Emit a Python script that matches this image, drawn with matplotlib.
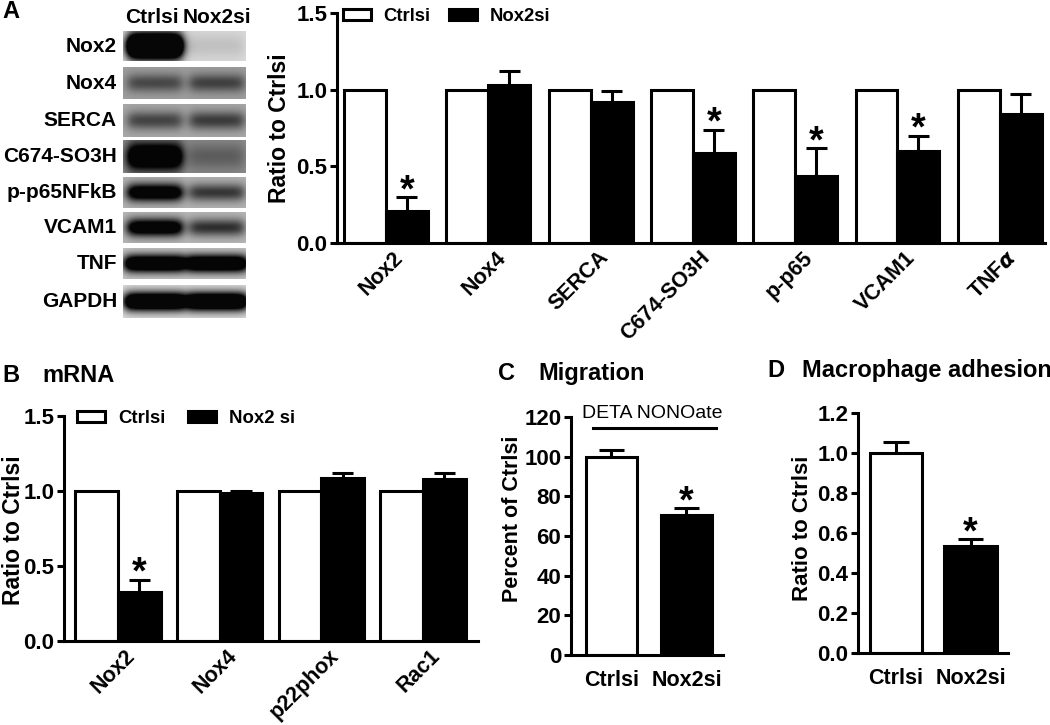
import matplotlib.pyplot as plt
import numpy as np
from matplotlib.patches import Patch
from matplotlib.ticker import FormatStrFormatter
from matplotlib.transforms import ScaledTranslation

plt.rcParams['font.family'] = ['Liberation Sans', 'DejaVu Sans']
plt.rcParams['font.weight'] = 'bold'
plt.rcParams['axes.labelweight'] = 'bold'
plt.rcParams['mathtext.default'] = 'it'

# ── data ──────────────────────────────────────────────────────────────────────
blot_labels = ["Nox2", "Nox4", "SERCA", "C674-SO3H", "p-p65NFkB", "VCAM1", "TNF", "GAPDH"]
blot_lanes = ["Ctrlsi", "Nox2si"]
blot_ctrl = [2.4, 0.55, 0.6, 1.7, 1.4, 1.4, 1.6, 1.7]      # band darkness
blot_nox2 = [0.12, 0.6, 0.65, 0.35, 0.7, 0.75, 1.6, 1.7]
blot_bg = [0.86, 0.62, 0.66, 0.56, 0.70, 0.72, 0.78, 0.86]  # membrane grey

a_cats = ["Nox2", "Nox4", "SERCA", "C674-SO3H", "p-p65", "VCAM1", r"TNF$\alpha$"]
a_ctrl = [1.0, 1.0, 1.0, 1.0, 1.0, 1.0, 1.0]
a_nox2 = [0.21, 1.03, 0.92, 0.59, 0.44, 0.60, 0.84]
a_err = [0.09, 0.09, 0.07, 0.15, 0.18, 0.10, 0.13]
a_sig = [True, False, False, True, True, True, False]

b_cats = ["Nox2", "Nox4", "p22phox", "Rac1"]
b_ctrl = [1.0, 1.0, 1.0, 1.0]
b_nox2 = [0.33, 0.99, 1.09, 1.08]
b_err = [0.08, 0.01, 0.03, 0.04]
b_sig = [True, False, False, False]

c_groups = ["Ctrlsi", "Nox2si"]
c_vals = [100.0, 70.5]
c_err = [3.3, 3.5]
c_sig = [False, True]

d_groups = ["Ctrlsi", "Nox2si"]
d_vals = [1.0, 0.535]
d_err = [0.055, 0.035]
d_sig = [False, True]

# ── helpers ───────────────────────────────────────────────────────────────────
W, H = 1050, 725
LW = 2.2
TICK = 16
fig = plt.figure(figsize=(W / 100, H / 100), dpi=100)


def add_ax(l, t, r, b):
    return fig.add_axes([l / W, 1 - b / H, (r - l) / W, (b - t) / H])


def style(ax, tick_size=TICK):
    for s in ("top", "right"):
        ax.spines[s].set_visible(False)
    for s in ("left", "bottom"):
        ax.spines[s].set_linewidth(LW)
    ax.tick_params(axis="y", direction="out", length=5, width=LW,
                   labelsize=tick_size, pad=2)
    ax.tick_params(axis="x", length=0)


def up_err(ax, xs, tops, errs, capw):
    xs = np.asarray(xs, float)
    tops = np.asarray(tops, float)
    errs = np.asarray(errs, float)
    ax.vlines(xs, tops, tops + errs, color="black", lw=LW, zorder=1)
    ax.hlines(tops + errs, xs - capw / 2, xs + capw / 2, color="black",
              lw=LW, zorder=1)


def stars(ax, xs, tops, sig, off=-3, size=27):
    for x, t, s in zip(xs, tops, sig):
        if s:
            ax.annotate("*", xy=(x, t), xytext=(0, off), textcoords="offset points",
                        ha="center", va="baseline", fontsize=size)


def paired(ax, cats, ctrl, treat, err, sig, w, xlim, ylim, ticks, fmt,
           lab_size, star_off):
    x = np.arange(len(cats))
    ax.bar(x - w / 2, ctrl, w, facecolor="white", edgecolor="black", lw=LW, zorder=2)
    ax.bar(x + w / 2, treat, w, facecolor="black", edgecolor="black", lw=LW, zorder=2)
    top = np.array(treat) + np.array(err)
    up_err(ax, x + w / 2, treat, err, w * 0.5)
    stars(ax, x + w / 2, top, sig, off=star_off)
    ax.set_xlim(*xlim)
    ax.set_ylim(*ylim)
    ax.set_yticks(ticks)
    ax.yaxis.set_major_formatter(FormatStrFormatter(fmt))
    ax.set_xticks(x)
    ax.set_xticklabels(cats, rotation=45, ha="right", va="top",
                       rotation_mode="anchor", fontsize=lab_size)
    style(ax)
    ax.tick_params(axis="x", pad=3)
    shift = ScaledTranslation(0.07, 0, fig.dpi_scale_trans)
    for t in ax.get_xticklabels():
        t.set_transform(t.get_transform() + shift)


# ── panel A: blot ─────────────────────────────────────────────────────────────
over = fig.add_axes([0, 0, 1, 1])
over.set_xlim(0, W)
over.set_ylim(H, 0)
over.axis("off")

row_tops = [31, 67, 104, 140, 177, 212, 248, 285]
row_bots = [61, 99, 137, 173, 208, 243, 279, 318]
bx0, bx1 = 123, 246
lane_c = [32, 94]          # lane centres inside the strip
for i, lab in enumerate(blot_labels):
    h = row_bots[i] - row_tops[i]
    wpx = bx1 - bx0
    xs = np.arange(wpx) + 0.5
    ys = np.arange(h) + 0.5
    dark = np.zeros((h, wpx))
    half_w = 30 if lab in ("TNF", "GAPDH") else 27
    sig_y = h * (0.30 if i in (0, 3) else 0.20)
    for s, c in zip((blot_ctrl[i], blot_nox2[i]), lane_c):
        px_ = 1 / (1 + np.exp((np.abs(xs - c) - half_w) / 3.0))
        py_ = np.exp(-0.5 * ((ys - h * 0.5) / sig_y) ** 2)
        dark += s * np.outer(py_, px_)
    img = blot_bg[i] * (1 - np.clip(dark, 0, 0.97))
    over.imshow(img, cmap="gray", vmin=0, vmax=1, aspect="auto",
                extent=(bx0, bx1, row_bots[i], row_tops[i]), interpolation="bilinear")
    over.text(117, (row_tops[i] + row_bots[i]) / 2, lab, ha="right", va="center",
              fontsize=15)
over.text(152, 17, blot_lanes[0], ha="center", va="center", fontsize=15)
over.text(217, 17, blot_lanes[1], ha="center", va="center", fontsize=15)
over.text(2, 11, "A", ha="left", va="center", fontsize=17)

# ── panel A: bars ─────────────────────────────────────────────────────────────
axA = add_ax(337, 13, 1045, 243)
paired(axA, a_cats, a_ctrl, a_nox2, a_err, a_sig, 0.41,
       (-0.479, 6.442), (0, 1.5), [0, 0.5, 1.0, 1.5], "%.1f", 15.5, -3)
over.text(280, 128, "Ratio to Ctrlsi", rotation=90, ha="center", va="center",
          fontsize=16.5)
axA.legend(handles=[Patch(facecolor="white", edgecolor="black", lw=LW, label="Ctrlsi"),
                    Patch(facecolor="black", edgecolor="black", lw=LW, label="Nox2si")],
           ncol=2, frameon=False, fontsize=13.3, handlelength=1.5, handleheight=0.6,
           handletextpad=0.7, columnspacing=1.0, borderpad=0, borderaxespad=0,
           loc="upper left", bbox_to_anchor=(343 / W, 1 - 8 / H),
           bbox_transform=fig.transFigure)

# ── panel B ───────────────────────────────────────────────────────────────────
over.text(2, 375, "B", ha="left", va="center", fontsize=17)
over.text(42, 375, "mRNA", ha="left", va="center", fontsize=17)
axB = add_ax(64, 416, 478, 641)
paired(axB, b_cats, b_ctrl, b_nox2, b_err, b_sig, 0.42,
       (-0.531, 3.54), (0, 1.5), [0, 0.5, 1.0, 1.5], "%.1f", 15.5, -3)
over.text(14, 530, "Ratio to Ctrlsi", rotation=90, ha="center", va="center",
          fontsize=16.5)
axB.legend(handles=[Patch(facecolor="white", edgecolor="black", lw=LW, label="Ctrlsi"),
                    Patch(facecolor="black", edgecolor="black", lw=LW, label="Nox2 si")],
           ncol=2, frameon=False, fontsize=13.4, handlelength=1.5, handleheight=0.6,
           handletextpad=0.7, columnspacing=1.2, borderpad=0, borderaxespad=0,
           loc="upper left", bbox_to_anchor=(77 / W, 1 - 410 / H),
           bbox_transform=fig.transFigure)

# ── panel C ───────────────────────────────────────────────────────────────────
over.text(498, 373, "C", ha="left", va="center", fontsize=17)
over.text(538, 373, "Migration", ha="left", va="center", fontsize=17)
axC = add_ax(571, 417, 723, 655)
xc = np.arange(len(c_groups))
axC.bar(xc, c_vals, 0.68, color=["white", "black"], edgecolor="black", lw=LW, zorder=2)
up_err(axC, xc, c_vals, c_err, 0.34)
stars(axC, xc, np.add(c_vals, c_err), c_sig)
axC.set_xlim(-0.54, 1.487)
axC.set_ylim(0, 120)
axC.set_yticks(range(0, 121, 20))
axC.set_xticks(xc)
axC.set_xticklabels(c_groups, fontsize=15.5)
style(axC)
axC.tick_params(axis="x", pad=11)
axC.plot([-0.25, 1.39], [114.5, 114.5], color="black", lw=LW, clip_on=False)
axC.text(0.55, 117.5, "DETA NONOate", ha="center", va="bottom", fontsize=14,
         fontweight="normal")
over.text(513, 519, "Percent of Ctrlsi", rotation=90, ha="center", va="center",
          fontsize=15.5)

# ── panel D ───────────────────────────────────────────────────────────────────
over.text(767, 370, "D", ha="left", va="center", fontsize=17)
over.text(802, 370, "Macrophage adhesion", ha="left", va="center", fontsize=17)
axD = add_ax(858, 413, 1008, 653)
xd = np.arange(len(d_groups))
axD.bar(xd, d_vals, 0.70, color=["white", "black"], edgecolor="black", lw=LW, zorder=2)
up_err(axD, xd, d_vals, d_err, 0.34)
stars(axD, xd, np.add(d_vals, d_err), d_sig)
axD.set_xlim(-0.51, 1.503)
axD.set_ylim(0, 1.2)
axD.set_yticks(np.arange(0, 1.21, 0.2))
axD.yaxis.set_major_formatter(FormatStrFormatter("%.1f"))
axD.set_xticks(xd)
axD.set_xticklabels(d_groups, fontsize=15.5)
style(axD)
axD.tick_params(axis="x", pad=11)
over.text(803, 528, "Ratio to Ctrlsi", rotation=90, ha="center", va="center",
          fontsize=16)

fig.savefig("out.png", dpi=100)
